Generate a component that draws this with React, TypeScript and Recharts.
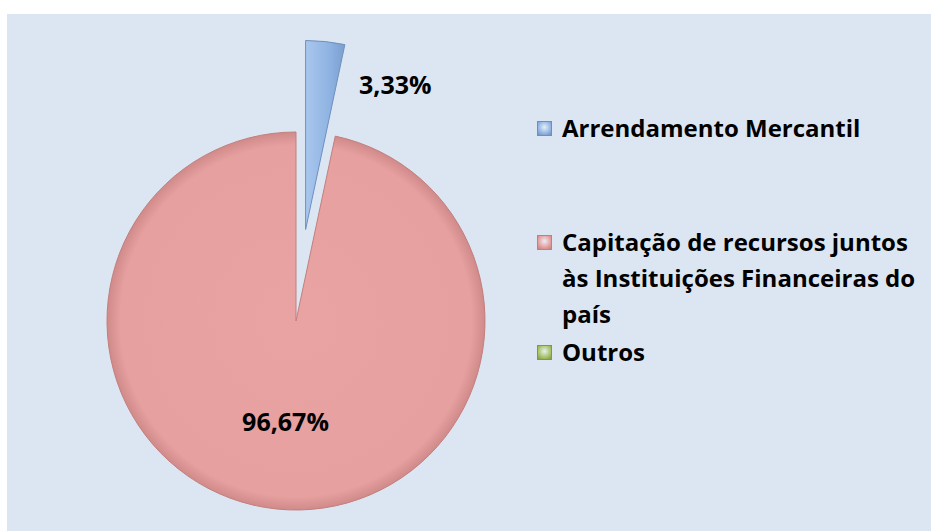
import React from 'react';
import { PieChart, Pie, Cell, Legend } from 'recharts';

// categories, shares (%) and the printed labels
const categories = [
  'Arrendamento Mercantil',
  'Capitação de recursos juntos às Instituições Financeiras do país',
  'Outros',
];
const shares = [3.33, 96.67, 0];
const percentLabels = ['3,33%', '96,67%', ''];
const colors = ['#93b7e5', '#e6a09f', '#a7c466'];
const strokes = ['#6f90bd', '#c27f7e', '#7f9a46'];

const data = categories.map((name, i) => ({ name, value: shares[i] }));

const W = 931;
const H = 531;
const CX = 296;
const CY = 321;
const R = 189;
const EXPLODE = 92;
const START = 90;
const END = -270;

const total = shares.reduce((a, b) => a + b, 0);
const RAD = Math.PI / 180;
// mid angle of the exploded (first) slice
const blueMid = START - ((shares[0] / total) * 360) / 2;
const CX2 = CX + EXPLODE * Math.cos(blueMid * RAD);
const CY2 = CY - EXPLODE * Math.sin(blueMid * RAD);

const FONT = '"Open Sans", Lato, sans-serif';

const labelStyle = {
  fontFamily: FONT,
  fontWeight: 700,
  fontSize: 25,
  fill: '#000',
};

const renderBaseLabel = (p: any) => {
  if (p.index !== 1) return null;
  const r = p.outerRadius * 0.53;
  const x = p.cx + r * Math.cos(-p.midAngle * RAD);
  const y = p.cy + r * Math.sin(-p.midAngle * RAD);
  return (
    <text x={x} y={y} textAnchor="middle" dominantBaseline="central" style={labelStyle}>
      {percentLabels[1]}
    </text>
  );
};

const renderExplodedLabel = (p: any) => {
  if (p.index !== 0) return null;
  const tipX = p.cx + p.outerRadius * Math.cos(-p.midAngle * RAD);
  const tipY = p.cy + p.outerRadius * Math.sin(-p.midAngle * RAD);
  return (
    <text x={tipX + 70} y={tipY + 42} textAnchor="middle" dominantBaseline="central" style={labelStyle}>
      {percentLabels[0]}
    </text>
  );
};

const LegendBox = () => (
  <div style={{ fontFamily: FONT, fontWeight: 700, fontSize: 24, color: '#000' }}>
    {categories.map((name, i) => (
      <div
        key={name}
        style={{
          display: 'flex',
          alignItems: 'flex-start',
          lineHeight: '36px',
          marginTop: i === 0 ? 0 : i === 1 ? 78 : 2,
        }}
      >
        <span
          style={{
            display: 'inline-block',
            width: 15,
            height: 15,
            marginTop: 11,
            marginRight: 10,
            flexShrink: 0,
            boxSizing: 'border-box',
            border: `1px solid ${strokes[i]}`,
            background: `radial-gradient(circle at 50% 40%, #ffffff55 0%, ${colors[i]} 60%, ${strokes[i]} 100%)`,
          }}
        />
        <span style={{ width: 356 }}>{name}</span>
      </div>
    ))}
  </div>
);

export default function App() {
  return (
    <div style={{ position: 'absolute', left: 0, top: 0, width: W, height: H, background: '#ffffff' }}>
      <div
        style={{
          position: 'absolute',
          left: 7,
          top: 14,
          width: W - 7,
          height: H - 14,
          background: '#dce6f2',
        }}
      />
      <div style={{ position: 'absolute', left: 0, top: 0 }}>
        <PieChart width={W} height={H} margin={{ top: 0, right: 0, bottom: 0, left: 0 }}>
          <defs>
            <radialGradient id="pinkShade" cx="50%" cy="50%" r="50%">
              <stop offset="0%" stopColor="#e8a3a2" />
              <stop offset="93%" stopColor="#e6a09f" />
              <stop offset="100%" stopColor="#d08a89" />
            </radialGradient>
            <linearGradient id="blueShade" x1="0" y1="0" x2="1" y2="0">
              <stop offset="0%" stopColor="#a9c7ee" />
              <stop offset="60%" stopColor="#8fb3e2" />
              <stop offset="100%" stopColor="#7a9fd0" />
            </linearGradient>
          </defs>
          <Pie
            data={data}
            dataKey="value"
            nameKey="name"
            cx={CX}
            cy={CY}
            outerRadius={R}
            startAngle={START}
            endAngle={END}
            label={renderBaseLabel}
            labelLine={false}
            isAnimationActive={false}
          >
            {data.map((d, i) => (
              <Cell
                key={d.name}
                fill={i === 1 ? 'url(#pinkShade)' : 'transparent'}
                stroke={i === 1 ? strokes[1] : 'none'}
                strokeWidth={1}
              />
            ))}
          </Pie>
          <Pie
            data={data}
            dataKey="value"
            nameKey="name"
            cx={CX2}
            cy={CY2}
            outerRadius={R}
            startAngle={START}
            endAngle={END}
            label={renderExplodedLabel}
            labelLine={false}
            isAnimationActive={false}
          >
            {data.map((d, i) => (
              <Cell
                key={d.name}
                fill={i === 0 ? 'url(#blueShade)' : 'transparent'}
                stroke={i === 0 ? strokes[0] : 'none'}
                strokeWidth={1}
              />
            ))}
          </Pie>
          <Legend
            content={() => <LegendBox />}
            wrapperStyle={{ position: 'absolute', left: 537, top: 110, width: 394 }}
          />
        </PieChart>
      </div>
    </div>
  );
}
